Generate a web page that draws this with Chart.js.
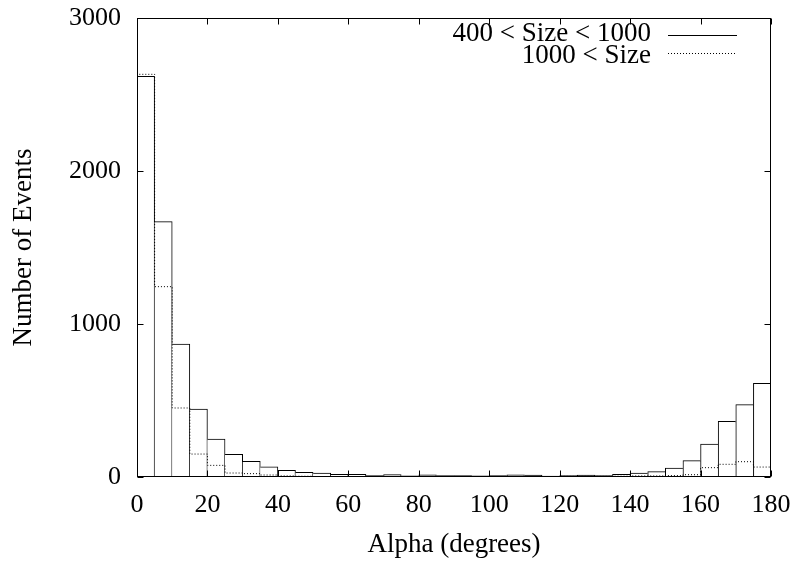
<!DOCTYPE html>
<html>
<head>
<meta charset="utf-8">
<script src="https://cdn.jsdelivr.net/npm/chart.js@4.4.0/dist/chart.umd.min.js"></script>
<style>
  html, body { margin: 0; padding: 0; background: #fff; }
  #wrap { width: 795px; height: 565px; }
</style>
</head>
<body>
<div id="wrap"><canvas id="chart"></canvas></div>
<script>
// histogram bins, 5 degrees wide
const binStart = [0, 5, 10, 15, 20, 25, 30, 35, 40, 45, 50, 55, 60, 65, 70, 75, 80, 85,
                  90, 95, 100, 105, 110, 115, 120, 125, 130, 135, 140, 145, 150, 155, 160, 165, 170, 175];
const binWidth = 5;
const midSize = [2619, 1669, 869, 444, 248, 148, 103, 67, 44, 31, 26, 18, 18, 9, 16, 8, 14, 9,
                 9, 8, 9, 15, 12, 6, 10, 13, 9, 17, 26, 35, 59, 107, 215, 364, 473, 612];
const bigSize = [2632, 1244, 451, 150, 76, 26, 22, 13, 7, 5, 3, 3, 3, 2, 3, 2, 3, 2,
                 2, 2, 2, 3, 2, 2, 4, 4, 4, 5, 7, 7, 9, 15, 61, 83, 100, 65];
const seriesLabels = ['400 < Size < 1000', '1000 < Size'];
const xTicks = [0, 20, 40, 60, 80, 100, 120, 140, 160, 180];
const yTicks = [0, 1000, 2000, 3000];

const FONT = 'Liberation Serif, Times New Roman, serif';

const barPoints = binStart.map(function(s, i) {
    return { x: s + binWidth / 2, y: midSize[i] };
});

// outline of the second histogram as a stepped line
const xEnd = binStart[binStart.length - 1] + binWidth;
const stepPoints = [{ x: binStart[0], y: 0 }]
    .concat(binStart.map(function(s, i) { return { x: s, y: bigSize[i] }; }))
    .concat([{ x: xEnd, y: bigSize[bigSize.length - 1] }, { x: xEnd, y: 0 }]);

// a shared edge between two boxes is drawn by the taller one, so it reaches its top
function boxBorder(ctx) {
    const i = ctx.dataIndex;
    const n = midSize.length;
    const h = midSize[i];
    return {
        top: 1,
        bottom: 0,
        left: (i === 0 || midSize[i - 1] < h) ? 1 : 0,
        right: (i === n - 1 || midSize[i + 1] <= h) ? 1 : 0
    };
}

const frameTicks = {
    id: 'frameTicks',
    afterDraw(chart) {
        const { ctx, chartArea } = chart;
        const xs = chart.scales.x, ys = chart.scales.y;
        const L = Math.round(chartArea.left) + 0.5, R = Math.round(chartArea.right) - 0.5;
        const T = Math.round(chartArea.top) + 0.5, B = Math.round(chartArea.bottom) - 0.5;
        const len = 6;
        ctx.save();
        ctx.strokeStyle = '#000';
        ctx.lineWidth = 1;
        ctx.strokeRect(L, T, R - L, B - T);
        ctx.beginPath();
        xTicks.forEach(function(v) {
            const px = Math.round(xs.getPixelForValue(v)) + 0.5;
            ctx.moveTo(px, B); ctx.lineTo(px, B - len);
            ctx.moveTo(px, T); ctx.lineTo(px, T + len);
        });
        yTicks.forEach(function(v) {
            const py = Math.round(ys.getPixelForValue(v)) + 0.5;
            ctx.moveTo(L, py); ctx.lineTo(L + len, py);
            ctx.moveTo(R, py); ctx.lineTo(R - len, py);
        });
        ctx.stroke();
        ctx.restore();
    }
};

const keyBox = {
    id: 'keyBox',
    afterDraw(chart) {
        const ctx = chart.ctx;
        const textRight = 651, lineFrom = 668, lineTo = 737;
        const baselines = [41, 63];
        const lineRows = [35, 53];
        ctx.save();
        ctx.font = '27px ' + FONT;
        ctx.fillStyle = '#000';
        ctx.textAlign = 'right';
        ctx.textBaseline = 'alphabetic';
        const sets = [chart.data.datasets[0], chart.data.datasets[1]];
        sets.forEach(function(ds, i) {
            ctx.fillText(ds.label, textRight, baselines[i]);
            ctx.beginPath();
            ctx.strokeStyle = '#000';
            ctx.lineWidth = 1;
            ctx.setLineDash(ds.type === 'line' ? ds.borderDash : []);
            ctx.moveTo(lineFrom, lineRows[i] + 0.5);
            ctx.lineTo(lineTo, lineRows[i] + 0.5);
            ctx.stroke();
        });
        ctx.restore();
    }
};

new Chart(document.getElementById('chart'), {
    type: 'bar',
    data: {
        datasets: [{
            label: seriesLabels[0],
            data: barPoints,
            backgroundColor: '#ffffff',
            borderColor: '#000000',
            borderWidth: boxBorder,
            borderSkipped: false,
            barPercentage: 1,
            categoryPercentage: 1,
            order: 1
        }, {
            type: 'line',
            label: seriesLabels[1],
            data: stepPoints,
            stepped: true,
            borderColor: '#000000',
            borderWidth: 1,
            borderDash: [1, 2],
            pointRadius: 0,
            fill: false,
            order: 0
        }]
    },
    options: {
        responsive: true,
        maintainAspectRatio: false,
        animation: false,
        layout: { padding: { left: 0, right: 24, top: 18, bottom: 0 } },
        plugins: {
            legend: { display: false },
            tooltip: { enabled: false }
        },
        scales: {
            x: {
                type: 'linear',
                min: 0,
                max: 180,
                offset: false,
                afterFit: function(s) {
                    s.height = 88;
                    s.paddingLeft = 0;
                    s.paddingRight = 0;
                },
                grid: { display: false, drawTicks: false },
                border: { display: false },
                ticks: {
                    stepSize: 20,
                    padding: 13,
                    color: '#000',
                    font: { family: FONT, size: 26 },
                    maxRotation: 0,
                    callback: function(v) { return String(v); }
                },
                title: {
                    display: true,
                    text: 'Alpha (degrees)',
                    color: '#000',
                    font: { family: FONT, size: 27 },
                    padding: { top: 0, bottom: 4 }
                }
            },
            y: {
                min: 0,
                max: 3000,
                afterFit: function(s) {
                    s.width = 137;
                    s.paddingTop = 0;
                    s.paddingBottom = 0;
                },
                grid: { display: false, drawTicks: false },
                border: { display: false },
                ticks: {
                    stepSize: 1000,
                    padding: 16,
                    color: '#000',
                    font: { family: FONT, size: 26 },
                    callback: function(v) { return String(v); }
                },
                title: {
                    display: true,
                    text: 'Number of Events',
                    color: '#000',
                    font: { family: FONT, size: 27 },
                    padding: { top: 8, bottom: 0 }
                }
            }
        }
    },
    plugins: [frameTicks, keyBox]
});
</script>
</body>
</html>
